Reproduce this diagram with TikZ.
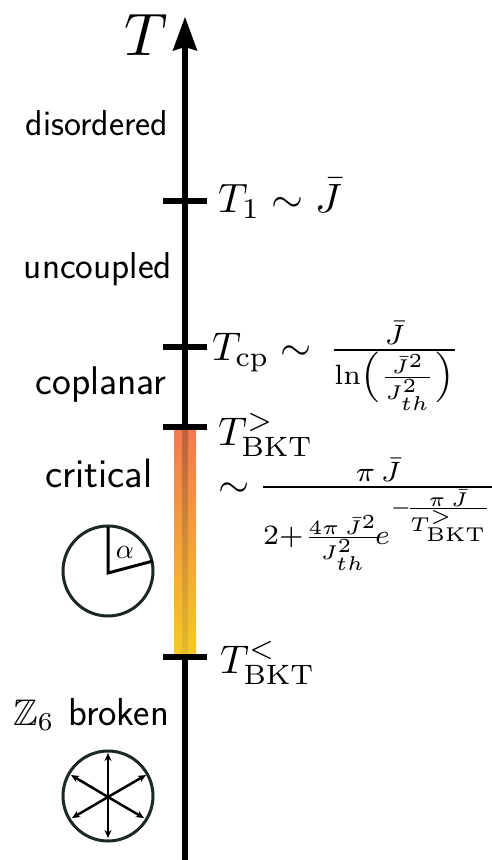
\RequirePackage{fix-cm}
\documentclass[tikz,border=0pt]{standalone}
\usepackage{graphicx}
\usepackage{amsmath,amssymb}
\usetikzlibrary{arrows.meta}
\definecolor{ringcol}{HTML}{1B2826}
\definecolor{gradtop}{HTML}{F47950}
\definecolor{gradbot}{HTML}{F5C924}
\definecolor{bandtop}{HTML}{BF5F3E}
\definecolor{bandbot}{HTML}{E6BC2A}
\tikzset{
  axisline/.style={line width=6.5pt,draw=black},
  tickmark/.style={line width=5.5pt,draw=black},
  phase/.style={font=\fontsize{36}{42}\selectfont\sffamily,inner sep=0pt,anchor=base},
  tlabel/.style={inner sep=0pt,anchor=base west},
  ring/.style={draw=ringcol,line width=3pt,circle,minimum size=90pt,inner sep=0pt},
  needle/.style={line width=3pt,draw=black},
  dirarrow/.style={line width=2.5pt,draw=black,-{Stealth[length=8pt,width=7pt]}},
}
\begin{document}
\begin{tikzpicture}[x=1pt,y=-1pt]
\useasboundingbox (0,0) rectangle (492,860);
% axis
\coordinate (axb) at (185,860);
\coordinate (axt) at (185,17);
\draw[axisline] (axb) -- (185,45);
\fill[black] (axt) -- (197.5,51) -- (185,47) -- (172.5,51) -- cycle;
\node[tlabel,anchor=base] (Tlab) at (146,55) {\scalebox{6}{$T$}};
% gradient bar
\shade[top color=gradtop,bottom color=gradbot] (174,428) rectangle (196,655);
\shade[top color=bandtop,bottom color=bandbot] (182,428) rectangle (188,655);
% ticks
\coordinate (t1a) at (163,201); \coordinate (t1b) at (207,201);
\coordinate (t2a) at (163,347); \coordinate (t2b) at (207,347);
\coordinate (t3a) at (163,427); \coordinate (t3b) at (207,427);
\coordinate (t4a) at (163,657); \coordinate (t4b) at (207,657);
\draw[tickmark] (t1a) -- (t1b);
\draw[tickmark] (t2a) -- (t2b);
\draw[tickmark] (t3a) -- (t3b);
\draw[tickmark] (t4a) -- (t4b);
% phase labels
\node[phase] (p1) at (97,135) {disordered};
\node[phase,font=\fontsize{37.5}{42}\selectfont\sffamily] (p2) at (98,278) {uncoupled};
\node[phase,font=\fontsize{40}{46}\selectfont\sffamily] (p3) at (101,394) {coplanar};
\node[phase,font=\fontsize{41}{46}\selectfont\sffamily] (p4) at (99,487) {critical};
\node[tlabel] (p5z) at (13,725) {\scalebox{3.7}{$\mathbb{Z}_6$}};
\node[phase,anchor=base west,font=\fontsize{39}{46}\selectfont\sffamily] (p5) at (68,725) {broken};
% temperature labels
\node[tlabel] (l1) at (218,212) {\scalebox{4.1}{$T_1\sim\bar J$}};
\node[tlabel] (l2) at (212,360) {\delimiterfactor=700 \delimitershortfall=6pt \scalebox{4}{$T_{\rm cp}\sim\,\frac{\bar J}{\ln\left(\frac{\bar J^2}{J_{th}^2}\right)}$}};
\node[tlabel] (l3) at (218,445) {\scalebox{4}{$T_{\rm BKT}^{>}$}};
\node[tlabel] (l4) at (218,497) {\scalebox{4}{$\sim\kern-0.5pt\frac{\pi\,\bar J}{2{+}\frac{4\pi\,\bar J^2}{J_{th}^2}\kern-1.8pt e^{-\kern-1.7pt\frac{\pi\,\bar J}{T_{\rm BKT}^{>}}}}$}};
\node[tlabel] (l5) at (220,673) {\scalebox{4}{$T_{\rm BKT}^{<}$}};
% critical clock
\node[ring] (c1) at (108,571) {};
\coordinate (c1c) at (108,573);
\coordinate (c1t) at (108,527);
\coordinate (c1r) at (153,561);
\draw[needle,line join=miter] (c1t) -- (c1c) -- (c1r);
\node[inner sep=0pt] (alph) at (125,552) {\scalebox{2.8}{$\alpha$}};
% broken clock
\node[ring] (c2) at (108,796) {};
\coordinate (c2c) at (108,797);
\coordinate (d1) at (108,753);
\coordinate (d2) at (146,775);
\coordinate (d3) at (144,818);
\coordinate (d4) at (108,838);
\coordinate (d5) at (72,818);
\coordinate (d6) at (71,775);
\foreach \d in {d1,d2,d3,d4,d5,d6} \draw[dirarrow] (c2c) -- (\d);
\end{tikzpicture}
\end{document}
